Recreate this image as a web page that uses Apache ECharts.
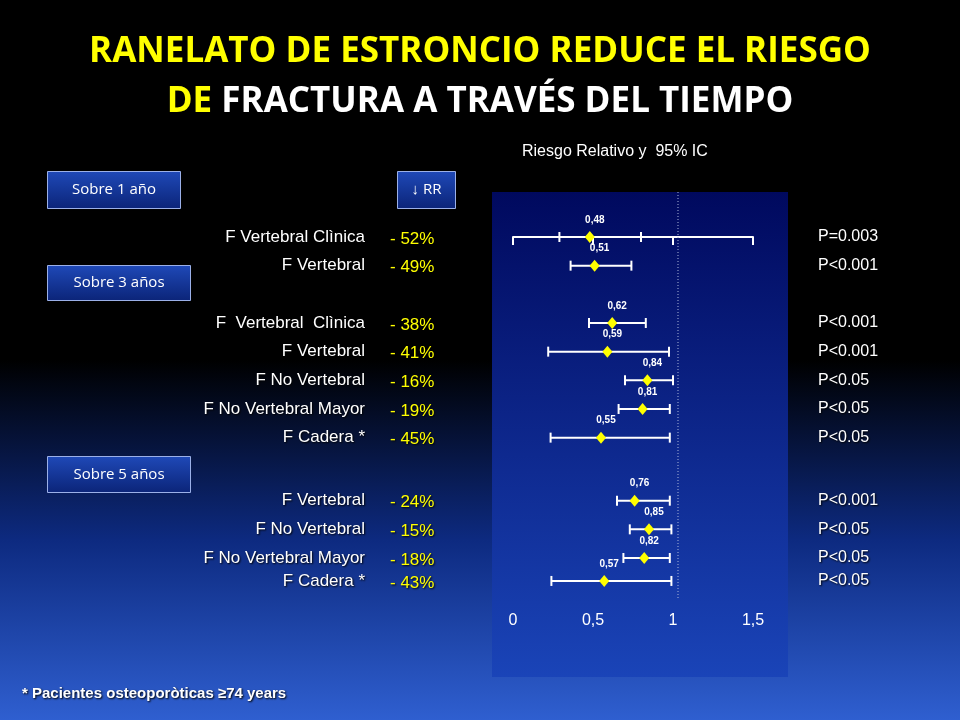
<!DOCTYPE html>
<html>
<head>
<meta charset="utf-8">
<script src="https://cdn.jsdelivr.net/npm/echarts@6/dist/echarts.min.js"></script>
<style>html,body{margin:0;padding:0;background:#000}#main{width:960px;height:720px}</style>
</head>
<body>
<div id="main"></div>
<script>
// filas del grafico
var names = ['F Vertebral Clìnica', 'F Vertebral', 'F  Vertebral  Clìnica', 'F Vertebral', 'F No Vertebral', 'F No Vertebral Mayor', 'F Cadera *',
	'F Vertebral', 'F No Vertebral', 'F No Vertebral Mayor', 'F Cadera *'];
var pcts = ['- 52%', '- 49%', '- 38%', '- 41%', '- 16%', '- 19%', '- 45%', '- 24%', '- 15%', '- 18%', '- 43%'];
var pvals = ['P=0.003', 'P<0.001', 'P<0.001', 'P<0.001', 'P<0.05', 'P<0.05', 'P<0.05', 'P<0.001', 'P<0.05', 'P<0.05', 'P<0.05'];
var rowPos = [0, 1, 3, 4, 5, 6, 7, 9.2, 10.2, 11.2, 12];
var rr = [0.48, 0.51, 0.62, 0.59, 0.84, 0.81, 0.55, 0.76, 0.85, 0.82, 0.57];
var rrLabels = ['0,48', '0,51', '0,62', '0,59', '0,84', '0,81', '0,55', '0,76', '0,85', '0,82', '0,57'];
var ciLow = [0.29, 0.36, 0.475, 0.22, 0.70, 0.66, 0.235, 0.65, 0.73, 0.69, 0.24];
var ciHigh = [0.80, 0.74, 0.83, 0.975, 1.0, 0.98, 0.98, 0.98, 0.99, 0.98, 0.99];
var xTicks = ['0', '0,5', '1', '1,5'];

var data = [];
for (var k in rr) {
	data.push([rr[k], rowPos[k], ciLow[k], ciHigh[k], k]);
}

var shadow = {textShadowColor: '#000', textShadowBlur: 2, textShadowOffsetX: 1, textShadowOffsetY: 1};

function renderForest(params, api) {
	var p = api.coord([api.value(0), api.value(1)]);
	var lo = api.coord([api.value(2), api.value(1)]);
	var hi = api.coord([api.value(3), api.value(1)]);
	var i = api.value(4);
	var s = {stroke: '#fff', lineWidth: 2};
	return {
		type: 'group',
		children: [
			{type: 'line', shape: {x1: lo[0], y1: p[1], x2: hi[0], y2: p[1]}, style: s},
			{type: 'line', shape: {x1: lo[0], y1: p[1] - 5, x2: lo[0], y2: p[1] + 5}, style: s},
			{type: 'line', shape: {x1: hi[0], y1: p[1] - 5, x2: hi[0], y2: p[1] + 5}, style: s},
			{type: 'polygon', shape: {points: [[p[0], p[1] - 6], [p[0] + 5, p[1]], [p[0], p[1] + 6], [p[0] - 5, p[1]]]}, style: {fill: '#ffff00'}},
			{type: 'text', x: p[0] + 5, y: p[1] - 12, style: {text: rrLabels[i], fill: '#fff', font: 'bold 10px Arial', align: 'center', verticalAlign: 'bottom'}},
			{type: 'text', x: 365, y: p[1], style: Object.assign({text: names[i], fill: '#fff', font: '17px Arial', align: 'right', verticalAlign: 'middle'}, shadow)},
			{type: 'text', x: 390, y: p[1] + 2, style: Object.assign({text: pcts[i], fill: '#ffff00', font: '17px Arial', align: 'left', verticalAlign: 'middle'}, shadow)},
			{type: 'text', x: 818, y: p[1], style: Object.assign({text: pvals[i], fill: '#fff', font: '16px Arial', align: 'left', verticalAlign: 'middle'}, shadow)}
		]
	};
}

function box(x, y, w, h, txt) {
	return {
		type: 'group', left: x, top: y,
		children: [
			{type: 'rect', shape: {x: 0, y: 0, width: w, height: h},
				style: {fill: new echarts.graphic.LinearGradient(0, 0, 0, 1, [{offset: 0, color: '#1f49b8'}, {offset: 1, color: '#0b2478'}]), stroke: '#9bb0e8', lineWidth: 1}},
			{type: 'text', x: w / 2, y: h / 2, style: {text: txt, fill: '#fff', font: '15px "Open Sans", Arial', align: 'center', verticalAlign: 'middle'}}
		]
	};
}

var myChart = echarts.init(document.getElementById('main'));
var option = {
	backgroundColor: new echarts.graphic.LinearGradient(0, 0, 0, 1, [
		{offset: 0, color: '#000000'}, {offset: 0.5, color: '#000000'}, {offset: 0.75, color: '#0d2a80'}, {offset: 1, color: '#2f5fd0'}]),
	title: {
		left: 'center', top: 22,
		text: '{y|RANELATO DE ESTRONCIO REDUCE EL RIESGO}\n{y|DE }{w|FRACTURA A TRAVÉS DEL TIEMPO}',
		textStyle: {
			rich: {
				y: {color: '#ffff00', fontSize: 35, fontWeight: 'bold', fontFamily: '"Open Sans", Arial', lineHeight: 50},
				w: {color: '#fff', fontSize: 35, fontWeight: 'bold', fontFamily: '"Open Sans", Arial', lineHeight: 50}
			}
		}
	},
	graphic: [
		{type: 'rect', z: -1, shape: {x: 492, y: 192, width: 296, height: 485},
			style: {fill: new echarts.graphic.LinearGradient(0, 0, 0, 1, [{offset: 0, color: '#00095e'}, {offset: 1, color: '#1a44b8'}])}},
		{type: 'line', z: 1, shape: {x1: 678, y1: 192, x2: 678, y2: 598}, style: {stroke: '#aab4d8', lineWidth: 1, lineDash: [1, 2]}},
		{type: 'text', left: 522, top: 144, style: {text: 'Riesgo Relativo y  95% IC', fill: '#fff', font: '16px Arial'}},
		box(47, 171, 133, 37, 'Sobre 1 año'),
		box(397, 171, 58, 37, '↓ RR'),
		box(47, 265, 143, 35, 'Sobre 3 años'),
		box(47, 456, 143, 36, 'Sobre 5 años'),
		{type: 'text', left: 22, top: 686, style: Object.assign({text: '* Pacientes osteoporòticas ≥74 years', fill: '#fff', font: 'bold 15px Arial'}, shadow)}
	],
	grid: {left: 513, right: 207, top: 237, bottom: 121},
	xAxis: {
		type: 'value', min: 0, max: 1.5, interval: 0.5, position: 'bottom',
		axisLine: {lineStyle: {color: '#fff', width: 2}},
		axisTick: {length: 8, lineStyle: {color: '#fff', width: 2}},
		axisLabel: {color: '#fff', fontSize: 16, fontFamily: 'Arial', margin: 14, formatter: function (v) { return xTicks[Math.round(v * 2)]; }},
		splitLine: {show: false}
	},
	yAxis: {type: 'value', min: 0, max: 12.63, inverse: true, show: false, splitLine: {show: false}},
	series: [{
		type: 'custom', renderItem: renderForest, data: data, clip: false, z: 3
	}]
};
myChart.setOption(option);
</script>
</body>
</html>
